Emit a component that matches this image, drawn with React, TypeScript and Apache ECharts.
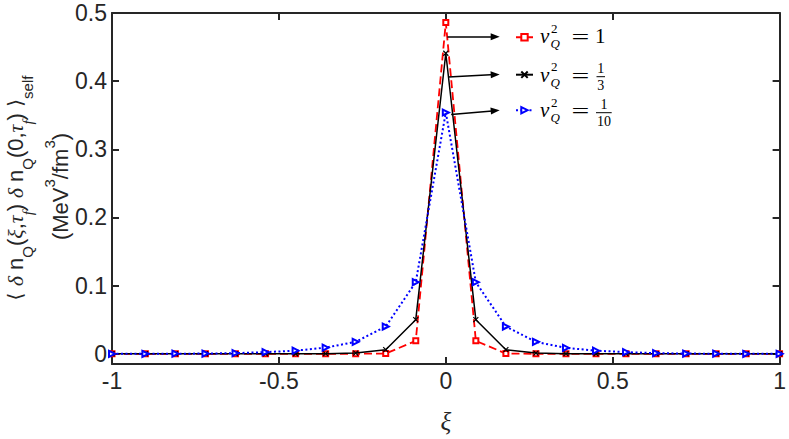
import React, { useEffect, useRef } from "react";
import * as echarts from "echarts";

const xi = [-1, -0.9, -0.81, -0.72, -0.63, -0.54, -0.45, -0.36, -0.27, -0.18, -0.09, 0, 0.09, 0.18, 0.27, 0.36, 0.45, 0.54, 0.63, 0.72, 0.81, 0.9, 1];
const vq1 = [0, 0, 0, 0, 0, 0, 0, 0, 0, 0.0003, 0.019, 0.486, 0.019, 0.0003, 0, 0, 0, 0, 0, 0, 0, 0, 0];
const vq13 = [0, 0, 0, 0, 0, 0, 0, 0.0002, 0.001, 0.006, 0.05, 0.441, 0.05, 0.006, 0.001, 0.0002, 0, 0, 0, 0, 0, 0, 0];
const vq110 = [0, 0, 0.0001, 0.0003, 0.0009, 0.0024, 0.0046, 0.009, 0.0175, 0.04, 0.105, 0.354, 0.105, 0.04, 0.0175, 0.0086, 0.0046, 0.0024, 0.0009, 0.0003, 0.0001, 0, 0];
const xTicks = [-1, -0.5, 0, 0.5, 1];
const yTicks = [0, 0.1, 0.2, 0.3, 0.4, 0.5];
const seriesNames = ["v_Q^2 = 1", "v_Q^2 = 1/3", "v_Q^2 = 1/10"];
const arrowStarts = [[0.005, 0.4647], [0.0075, 0.4061], [0.016, 0.351]];
const arrowEnds = [[0.148, 0.465], [0.148, 0.4096], [0.148, 0.3567]];

const AX = "#262626";
const SANS = "'Liberation Sans', Arial, Helvetica, sans-serif";
const SERIF = "'Liberation Serif', 'Times New Roman', serif";

function mathRow(B: number, num: string, den: string | null, fracCx: number, barX0: number, barX1: number, barY: number, numBase: number, denBase: number) {
  const els: any[] = [
    { type: "text", x: 540, y: B - 7.1, style: { text: "v", font: `italic 21px ${SERIF}`, fill: "#000", textAlign: "left", textVerticalAlign: "middle", verticalAlign: "middle" } },
    { type: "text", x: 551, y: B - 15, style: { text: "2", font: `13px ${SERIF}`, fill: "#000", textAlign: "left", textVerticalAlign: "middle", verticalAlign: "middle" } },
    { type: "text", x: 550.5, y: B + 0.5, style: { text: "Q", font: `italic 13px ${SERIF}`, fill: "#000", textAlign: "left", textVerticalAlign: "middle", verticalAlign: "middle" } },
    { type: "text", x: 571.5, y: B - 5.9, scaleX: 1.5, style: { text: "=", font: `21px ${SERIF}`, fill: "#000", textAlign: "left", textVerticalAlign: "middle", verticalAlign: "middle" } },
  ];
  if (den === null) {
    els.push({ type: "text", x: 595, y: B - 7.1, style: { text: num, font: `21px ${SERIF}`, fill: "#000", textAlign: "left", textVerticalAlign: "middle", verticalAlign: "middle" } });
  } else {
    els.push({ type: "text", x: fracCx, y: numBase - 4.7, style: { text: num, font: `14px ${SERIF}`, fill: "#000", textAlign: "center", textVerticalAlign: "middle", verticalAlign: "middle" } });
    els.push({ type: "line", shape: { x1: barX0, y1: barY, x2: barX1, y2: barY }, style: { stroke: "#000", lineWidth: 1 } });
    els.push({ type: "text", x: fracCx, y: denBase - 4.7, style: { text: den, font: `14px ${SERIF}`, fill: "#000", textAlign: "center", textVerticalAlign: "middle", verticalAlign: "middle" } });
  }
  return els;
}

export default function App() {
  const ref = useRef<HTMLDivElement>(null);
  useEffect(() => {
    const chart = echarts.init(ref.current!, null, { renderer: "svg" });
    const axisLine = { show: true, onZero: false, lineStyle: { color: AX, width: 2 } };
    const tick = { show: true, inside: true, length: 7, lineStyle: { color: AX, width: 2 } };
    const iconY = [37, 74.5, 110];
    const option: any = {
      animation: false,
      backgroundColor: "#ffffff",
      grid: { left: 112, right: 8, top: 13, bottom: 71, containLabel: false },
      xAxis: [
        {
          type: "value", min: -1, max: 1, interval: 0.5, position: "bottom",
          axisLine, axisTick: tick, splitLine: { show: false },
          axisLabel: { margin: 5, color: AX, fontSize: 23, fontFamily: SANS },
          name: "ξ", nameLocation: "middle", nameGap: 45,
          nameTextStyle: { fontFamily: SERIF, fontStyle: "italic", fontSize: 25, color: AX },
        },
        {
          type: "value", min: -1, max: 1, interval: 0.5, position: "top",
          axisLine, axisTick: tick, splitLine: { show: false }, axisLabel: { show: false },
        },
      ],
      yAxis: [
        {
          type: "value", min: -0.015, max: 0.5, position: "left",
          axisLine, axisTick: { ...tick, customValues: yTicks }, splitLine: { show: false },
          axisLabel: { customValues: yTicks, margin: 5, color: AX, fontSize: 23, fontFamily: SANS, formatter: (v: number) => (Math.abs(v) < 1e-9 ? "0" : String(Math.round(v * 10) / 10)) },
        },
        {
          type: "value", min: -0.015, max: 0.5, position: "right",
          axisLine, axisTick: { ...tick, customValues: yTicks }, splitLine: { show: false }, axisLabel: { show: false },
        },
      ],
      legend: seriesNames.map((n, i) => ({
        data: [n], left: 515, top: iconY[i] - 4, orient: "vertical", padding: 0,
        itemWidth: 17, itemHeight: 8, formatter: () => "", textStyle: { fontSize: 8 }, selectedMode: false,
      })),
      series: [
        {
          type: "line", name: seriesNames[0], data: xi.map((x, i) => [x, vq1[i]]),
          symbol: "emptyRect", symbolSize: 5,
          lineStyle: { color: "#ff0000", width: 1.8, type: [8, 4] },
          itemStyle: { color: "#ff0000", borderColor: "#ff0000", borderWidth: 1.1 },
          emphasis: { disabled: true }, z: 2,
        },
        {
          type: "line", name: seriesNames[1], data: xi.map((x, i) => [x, vq13[i]]),
          symbol: "path://M0,0L10,10M10,0L0,10", symbolSize: 5,
          lineStyle: { color: "#000000", width: 1.5, type: "solid" },
          itemStyle: { color: "#000000", borderColor: "#000000", borderWidth: 1.2 },
          emphasis: { disabled: true }, z: 3,
          markLine: {
            silent: true, symbol: ["none", "triangle"], symbolSize: [7, 9],
            label: { show: false }, emphasis: { disabled: true },
            lineStyle: { color: "#000000", type: "solid", width: 1.5 },
            data: arrowStarts.map((s, i) => [{ coord: s }, { coord: arrowEnds[i] }]),
          },
        },
        {
          type: "line", name: seriesNames[2], data: xi.map((x, i) => [x, vq110[i]]),
          symbol: "emptyTriangle", symbolRotate: -90, symbolSize: 6,
          lineStyle: { color: "#0000ff", width: 2, type: [2, 2.5] },
          itemStyle: { color: "#0000ff", borderColor: "#0000ff", borderWidth: 1.2 },
          emphasis: { disabled: true }, z: 4,
        },
      ],
      graphic: [
        {
          type: "text", x: 15.4, y: 188, rotation: Math.PI / 2,
          style: {
            text: "{b|⟨ }{g|δ}{s| n}{sub|Q}{s|(}{g|ξ}{s|,}{g|τ}{gsub|f}{s|)}{g| δ}{s| n}{sub|Q}{s|(0,}{g|τ}{gsub|f}{s|)}{b| ⟩}{sub|self}",
            fill: AX, textAlign: "center", textVerticalAlign: "middle", verticalAlign: "middle",
            rich: {
              s: { fontFamily: SANS, fontSize: 22, lineHeight: 40, fill: AX },
              g: { fontFamily: SERIF, fontStyle: "italic", fontSize: 22, lineHeight: 40, fill: AX },
              b: { fontFamily: "'DejaVu Sans', sans-serif", fontSize: 20, lineHeight: 40, fill: AX },
              sub: { fontFamily: SANS, fontSize: 15, lineHeight: 12, verticalAlign: "bottom", fill: AX },
              gsub: { fontFamily: SERIF, fontStyle: "italic", fontSize: 15, lineHeight: 12, verticalAlign: "bottom", fill: AX },
            },
          },
        },
        {
          type: "text", x: 60.4, y: 186.5, rotation: Math.PI / 2,
          style: {
            text: "{s|(MeV}{sup|3}{s|/fm}{sup|3}{s|)}",
            fill: AX, textAlign: "center", textVerticalAlign: "middle", verticalAlign: "middle",
            rich: {
              s: { fontFamily: SANS, fontSize: 22, lineHeight: 36, fill: AX },
              sup: { fontFamily: SANS, fontSize: 15, lineHeight: 12, verticalAlign: "top", fill: AX },
            },
          },
        },
        ...mathRow(43.3, "1", null, 0, 0, 0, 0, 0, 0),
        ...mathRow(81.7, "1", "3", 600.8, 596.5, 605, 76.7, 73.3, 90),
        ...mathRow(117.3, "1", "10", 604, 596, 611.7, 112.7, 109.3, 126),
      ],
    };
    chart.setOption(option);
    return () => chart.dispose();
  }, []);
  return <div ref={ref} style={{ position: "fixed", left: 0, top: 0, width: 789, height: 439 }} />;
}
